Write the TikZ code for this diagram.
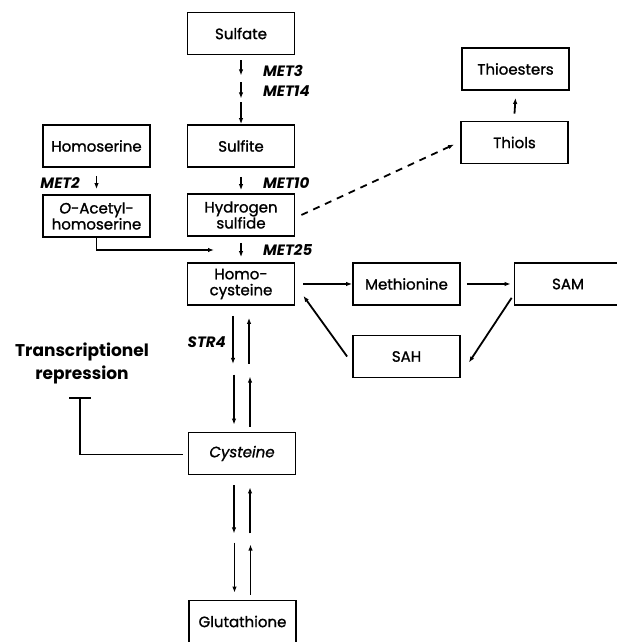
\documentclass[tikz,border=0pt]{standalone}
\usepackage{fontspec}
\setmainfont{Poppins}
\newfontfamily\boldish[FakeBold=1.2]{Poppins}
\usetikzlibrary{arrows.meta}

\begin{document}
\begin{tikzpicture}[x=1pt, y=1pt,
    box/.style={draw, line width=1.8pt, minimum width=107pt, minimum height=42pt, align=center, inner sep=1pt, font=\fontsize{15}{16}\boldish},
    arr/.style={line width=1.8pt, -{Latex[length=6pt,width=4.5pt]}},
    gene/.style={font=\fontsize{15}{16}\selectfont\itshape\bfseries, anchor=west, inner sep=0pt}]
    \useasboundingbox (0,0) rectangle (616,642);
    %\draw[help lines, step=50] (0,0) grid (616,642);
    \node[box] (sulfate) at (241,608.5) {Sulfate};
    \node[box] (sulfite) at (241,496) {Sulfite};
    \node[box] (homoserine) at (96.5,496) {Homoserine};
    \node[box] (acetyl) at (96.5,426) {\textit{O}-Acetyl-\\homoserine};
    \node[box] (hydrogen) at (241,427) {Hydrogen\\sulfide};
    \node[box] (homocys) at (241,358) {Homo-\\cysteine};
    \node[box] (methionine) at (406.5,358) {Methionine};
    \node[box] (sam) at (568,358) {SAM};
    \node[box] (sah) at (406.5,285.5) {SAH};
    \node[box] (thioesters) at (515.5,573) {Thioesters};
    \node[box] (thiols) at (514.5,499.5) {Thiols};
    \node[box] (cysteine) at (242,188.5) {\textit{Cysteine}};
    \node[box] (glutathione) at (242.5,20.5) {Glutathione};
    \node[align=center, font=\fontsize{17}{23}\selectfont\bfseries] (repress) at (82,279) {Transcriptionel\\repression};
    \coordinate (join) at (214,392);
    \coordinate (tbar) at (80,245);
    % sulfate to sulfite
    \draw[arr] ([yshift=-5]sulfate.south) -- ++(0,-15);
    \draw[arr] ([yshift=-27]sulfate.south) -- ++(0,-16);
    \draw[arr] ([yshift=-47]sulfate.south) -- (sulfite.north);
    \node[gene] (met3) at (263,571) {MET3};
    \node[gene] (met14) at (263,551) {MET14};
    \draw[arr] ([yshift=7]thiols.north) -- ([yshift=-7]thioesters.south);
    \draw[arr] ([yshift=-8]homoserine.south) -- ([yshift=5]acetyl.north);
    \node[gene, anchor=east] (met2) at (80,459) {MET2};
    \draw[arr] ([yshift=-9]sulfite.south) -- ([yshift=3]hydrogen.north);
    \node[gene] (met10) at (263,459) {MET10};
    \draw[arr, dashed, dash pattern=on 7pt off 6pt] ([xshift=6]hydrogen.east) -- ([xshift=-6,yshift=-2]thiols.west);
    \draw[arr] ([yshift=-6]hydrogen.south) -- ([yshift=5]homocys.north);
    \node[gene] (met25) at (263,392) {MET25};
    \draw[arr] (acetyl.south) |- (join);
    % methionine cycle
    \draw[arr] ([xshift=8]homocys.east) -- (methionine.west);
    \draw[arr] ([xshift=6]methionine.east) -- ([xshift=-3]sam.west);
    \draw[arr] ([shift={(-2,8)}]sam.south west) -- ([shift={(8,-6)}]sah.east);
    \draw[arr] ([xshift=-5]sah.west) -- ([shift={(8,10)}]homocys.south east);
    % homocysteine <-> cysteine <-> glutathione
    \foreach \top/\bot in {homocys/cysteine, cysteine/glutathione} {
        \draw[arr] ([xshift=-8,yshift=-10]\top.south) -- ([xshift=-8,yshift=-58]\top.south);
        \draw[arr] ([xshift=8,yshift=-58]\top.south) -- ([xshift=8,yshift=-12]\top.south);
        \draw[arr] ([xshift=-8,yshift=57]\bot.north) -- ([xshift=-8,yshift=7]\bot.north);
        \draw[arr] ([xshift=8,yshift=5]\bot.north) -- ([xshift=8,yshift=55]\bot.north);
    }
    \node[gene, anchor=east] (str4) at (226,300) {STR4};
    \draw[line width=1.8pt, -{Bar[width=22pt]}] ([xshift=-5,yshift=-1]cysteine.west) -| (tbar);
\end{tikzpicture}
\end{document}
